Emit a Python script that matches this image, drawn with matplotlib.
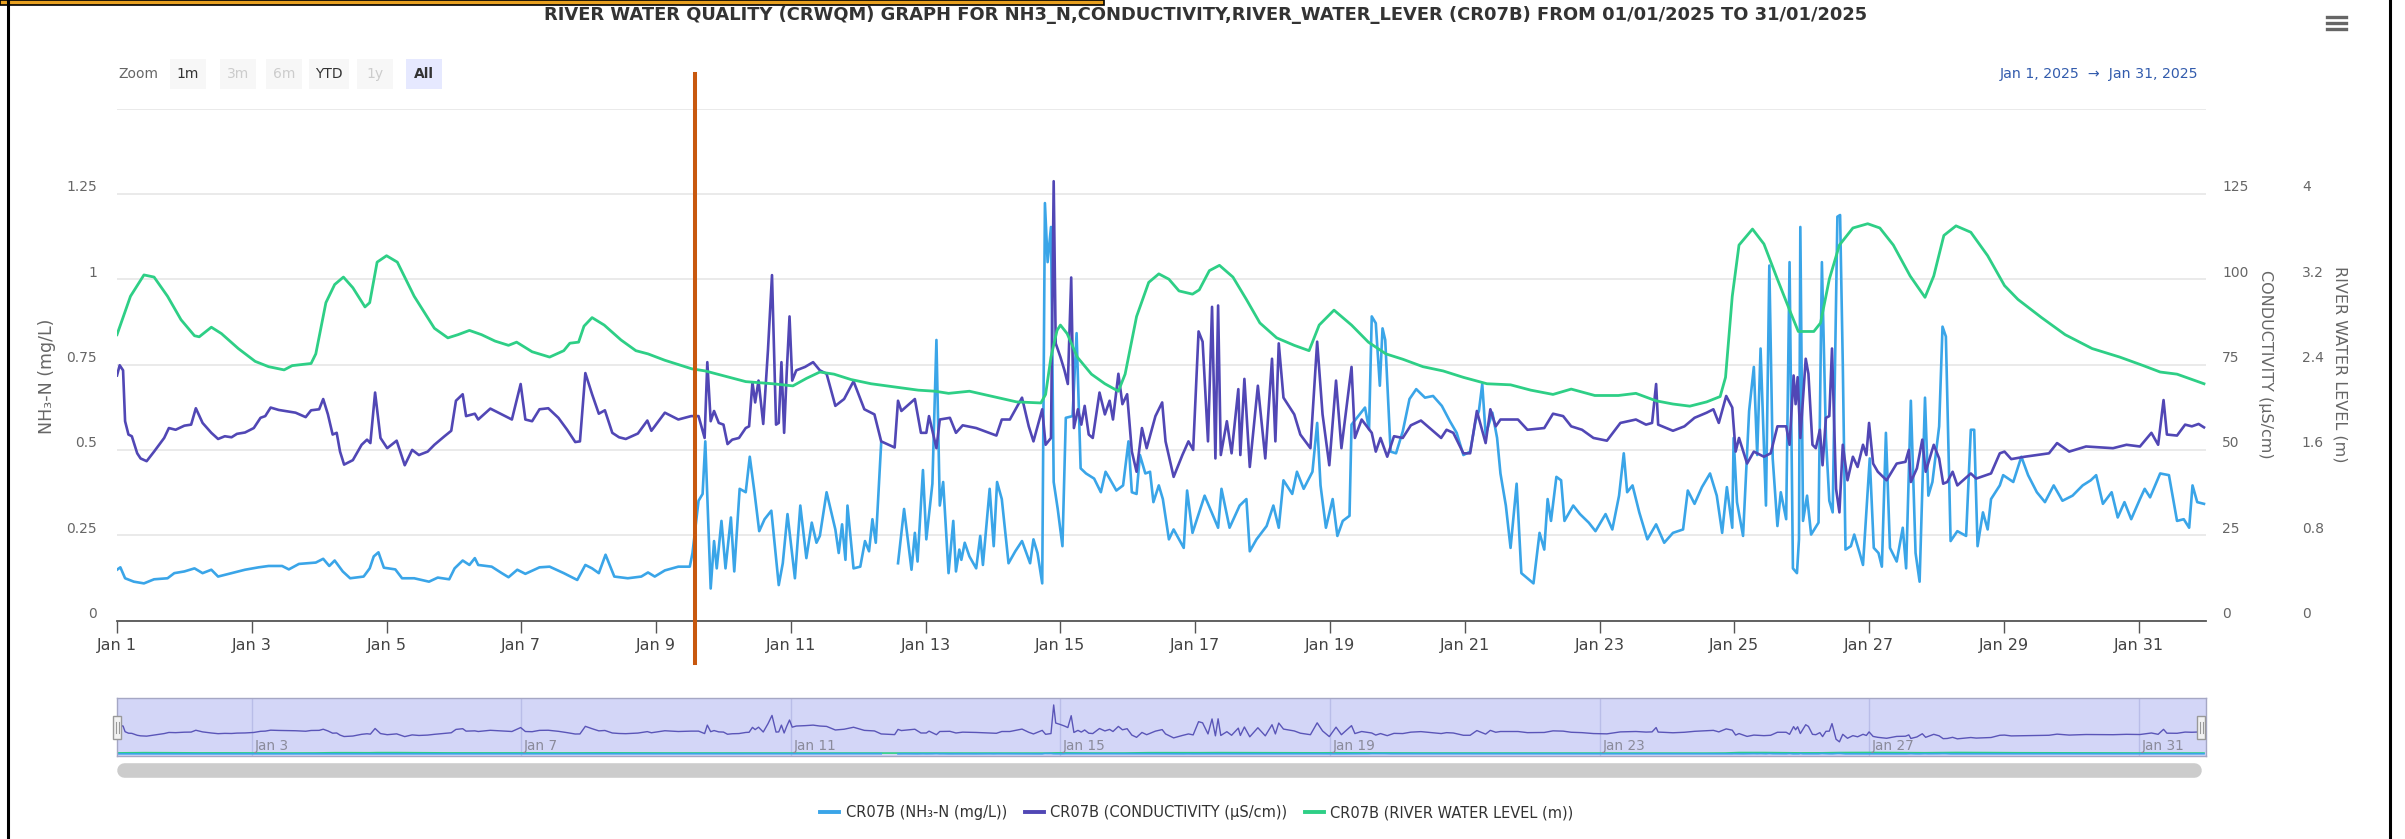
import matplotlib
matplotlib.use('Agg')
import matplotlib.pyplot as plt
import matplotlib.transforms as mtransforms
from matplotlib.patches import Rectangle
from matplotlib.lines import Line2D
import numpy as np

plt.rcParams['font.family'] = ['DejaVu Sans']

# ---- data (x = days since 1 Jan 2025 00:00) ----
title = ("RIVER WATER QUALITY (CRWQM) GRAPH FOR NH3_N,CONDUCTIVITY,RIVER_WATER_LEVER "
         "(CR07B) FROM 01/01/2025 TO 31/01/2025")
series_names = ['CR07B (NH\u2083-N (mg/L))', 'CR07B (CONDUCTIVITY (\u00b5S/cm))',
                'CR07B (RIVER WATER LEVEL (m))']

nh3_pts = [
    (0, 0.149), (0.05, 0.156), (0.12, 0.124), (0.25, 0.114), (0.4, 0.109), (0.55, 0.121),
    (0.75, 0.124), (0.85, 0.139), (1.0, 0.144), (1.15, 0.153), (1.27, 0.139), (1.4, 0.149),
    (1.5, 0.129), (1.7, 0.139), (1.9, 0.149), (2.1, 0.156), (2.25, 0.160), (2.45, 0.160),
    (2.55, 0.150), (2.7, 0.166), (2.95, 0.170), (3.06, 0.181), (3.15, 0.160), (3.23, 0.176),
    (3.35, 0.144), (3.46, 0.124), (3.66, 0.129), (3.75, 0.153), (3.81, 0.188), (3.88, 0.200),
    (3.96, 0.155), (4.13, 0.150), (4.23, 0.124), (4.41, 0.124), (4.63, 0.114), (4.76, 0.126),
    (4.93, 0.121), (5.01, 0.153), (5.13, 0.176), (5.23, 0.163), (5.31, 0.183), (5.36, 0.163),
    (5.56, 0.158), (5.71, 0.139), (5.81, 0.127), (5.94, 0.149), (6.06, 0.137), (6.27, 0.156),
    (6.42, 0.158), (6.63, 0.139), (6.83, 0.119), (6.95, 0.163), (7.05, 0.153), (7.15, 0.139),
    (7.25, 0.193), (7.38, 0.129), (7.58, 0.124), (7.78, 0.129), (7.88, 0.141), (7.98, 0.129),
    (8.13, 0.147), (8.33, 0.158), (8.5, 0.158), (8.54, 0.198), (8.63, 0.351), (8.69, 0.371),
    (8.73, 0.525), (8.81, 0.094), (8.86, 0.233), (8.9, 0.153), (8.97, 0.292), (9.03, 0.153),
    (9.11, 0.302), (9.16, 0.144), (9.24, 0.386), (9.33, 0.376), (9.39, 0.480), (9.46, 0.376),
    (9.53, 0.262), (9.61, 0.297), (9.71, 0.322), (9.82, 0.104), (9.88, 0.168), (9.95, 0.312),
    (10.06, 0.124), (10.14, 0.337), (10.23, 0.183), (10.31, 0.287), (10.38, 0.228),
    (10.43, 0.248), (10.53, 0.376), (10.66, 0.267), (10.71, 0.198), (10.76, 0.282),
    (10.81, 0.178), (10.84, 0.337), (10.93, 0.153), (11.03, 0.158), (11.1, 0.233),
    (11.16, 0.203), (11.21, 0.297), (11.26, 0.228), (11.34, 0.520), (11.45, np.nan),
    (11.59, 0.168), (11.68, 0.327), (11.79, 0.149), (11.84, 0.257), (11.88, 0.173),
    (11.96, 0.441), (12.01, 0.238), (12.1, 0.401), (12.16, 0.822), (12.21, 0.337),
    (12.26, 0.406), (12.34, 0.139), (12.41, 0.292), (12.45, 0.144), (12.5, 0.208),
    (12.53, 0.178), (12.58, 0.228), (12.65, 0.188), (12.75, 0.153), (12.81, 0.248),
    (12.85, 0.163), (12.95, 0.386), (13.01, 0.218), (13.06, 0.406), (13.13, 0.356),
    (13.23, 0.168), (13.33, 0.203), (13.43, 0.233), (13.55, 0.168), (13.6, 0.238),
    (13.66, 0.198), (13.73, 0.109), (13.77, 1.223), (13.81, 1.050), (13.86, 1.153),
    (13.9, 0.406), (13.96, 0.327), (14.03, 0.218), (14.08, 0.594), (14.18, 0.599),
    (14.24, 0.842), (14.3, 0.446), (14.38, 0.431), (14.5, 0.416), (14.6, 0.376), (14.67, 0.436),
    (14.73, 0.416), (14.83, 0.381), (14.93, 0.396), (15.01, 0.525), (15.06, 0.376),
    (15.13, 0.371), (15.18, 0.485), (15.26, 0.431), (15.33, 0.436), (15.38, 0.347),
    (15.46, 0.396), (15.52, 0.356), (15.61, 0.238), (15.68, 0.267), (15.83, 0.213),
    (15.88, 0.381), (15.96, 0.257), (16.14, 0.366), (16.34, 0.272), (16.39, 0.386),
    (16.51, 0.272), (16.66, 0.337), (16.76, 0.356), (16.81, 0.203), (16.91, 0.238),
    (17.06, 0.277), (17.16, 0.337), (17.24, 0.272), (17.31, 0.411), (17.44, 0.371),
    (17.51, 0.436), (17.61, 0.386), (17.74, 0.436), (17.81, 0.579), (17.86, 0.396),
    (17.94, 0.272), (18.04, 0.356), (18.11, 0.248), (18.19, 0.292), (18.29, 0.307),
    (18.32, 0.574), (18.52, 0.624), (18.58, 0.560), (18.62, 0.891), (18.68, 0.871),
    (18.74, 0.688), (18.78, 0.856), (18.82, 0.822), (18.9, 0.495), (18.98, 0.490),
    (19.08, 0.554), (19.18, 0.649), (19.28, 0.678), (19.41, 0.653), (19.53, 0.658),
    (19.66, 0.629), (19.78, 0.584), (19.88, 0.550), (19.98, 0.485), (20.08, 0.495),
    (20.16, 0.584), (20.21, 0.614), (20.26, 0.693), (20.31, 0.545), (20.41, 0.609),
    (20.48, 0.535), (20.53, 0.431), (20.61, 0.337), (20.68, 0.213), (20.77, 0.401),
    (20.84, 0.139), (20.93, 0.124), (21.02, 0.109), (21.11, 0.257), (21.18, 0.208),
    (21.23, 0.356), (21.28, 0.292), (21.36, 0.421), (21.43, 0.411), (21.48, 0.292),
    (21.61, 0.337), (21.71, 0.312), (21.84, 0.287), (21.94, 0.262), (22.09, 0.312),
    (22.19, 0.267), (22.29, 0.366), (22.36, 0.490), (22.41, 0.376), (22.49, 0.396),
    (22.59, 0.317), (22.71, 0.238), (22.84, 0.282), (22.96, 0.228), (23.09, 0.257),
    (23.24, 0.267), (23.31, 0.381), (23.41, 0.342), (23.52, 0.391), (23.64, 0.431),
    (23.74, 0.366), (23.82, 0.257), (23.89, 0.391), (23.97, 0.272), (23.99, 0.535),
    (24.04, 0.347), (24.13, 0.248), (24.22, 0.614), (24.29, 0.743), (24.34, 0.485),
    (24.39, 0.797), (24.47, 0.337), (24.52, 1.040), (24.57, 0.475), (24.64, 0.277),
    (24.69, 0.376), (24.77, 0.297), (24.82, 1.050), (24.87, 0.153), (24.93, 0.139),
    (24.96, 0.238), (24.98, 1.153), (25.02, 0.292), (25.08, 0.366), (25.14, 0.252),
    (25.25, 0.287), (25.3, 1.050), (25.36, 0.535), (25.41, 0.351), (25.46, 0.317),
    (25.53, 1.183), (25.57, 1.188), (25.61, 0.752), (25.65, 0.208), (25.73, 0.218),
    (25.78, 0.252), (25.86, 0.198), (25.91, 0.163), (26.01, 0.475), (26.07, 0.213),
    (26.14, 0.198), (26.19, 0.158), (26.25, 0.550), (26.31, 0.213), (26.41, 0.173),
    (26.5, 0.272), (26.55, 0.153), (26.62, 0.644), (26.69, 0.198), (26.75, 0.114),
    (26.83, 0.653), (26.88, 0.366), (26.94, 0.406), (27.04, 0.569), (27.09, 0.861),
    (27.14, 0.832), (27.21, 0.233), (27.31, 0.262), (27.44, 0.248), (27.51, 0.559),
    (27.56, 0.559), (27.61, 0.218), (27.69, 0.317), (27.76, 0.267), (27.81, 0.356),
    (27.94, 0.396), (27.99, 0.426), (28.14, 0.406), (28.26, 0.480), (28.36, 0.426),
    (28.49, 0.376), (28.61, 0.347), (28.74, 0.396), (28.87, 0.351), (29.02, 0.366),
    (29.17, 0.396), (29.29, 0.411), (29.37, 0.426), (29.47, 0.342), (29.6, 0.376),
    (29.69, 0.302), (29.79, 0.347), (29.89, 0.297), (30.02, 0.356), (30.09, 0.386),
    (30.17, 0.361), (30.32, 0.431), (30.45, 0.426), (30.57, 0.292), (30.67, 0.297),
    (30.75, 0.272), (30.8, 0.396), (30.87, 0.347), (30.97, 0.342),
]

cond_pts = [
    (0, 71.8), (0.04, 74.8), (0.09, 73.3), (0.12, 58.4), (0.17, 54.5), (0.22, 54.0),
    (0.3, 49.0), (0.35, 47.5), (0.44, 46.7), (0.55, 49.5), (0.7, 53.5), (0.77, 56.4),
    (0.87, 55.9), (1.0, 57.1), (1.1, 57.4), (1.17, 62.2), (1.27, 57.9), (1.4, 55.0),
    (1.5, 53.2), (1.6, 54.0), (1.7, 53.7), (1.78, 54.7), (1.9, 55.1), (2.03, 56.4),
    (2.13, 59.4), (2.2, 59.9), (2.28, 62.4), (2.4, 61.7), (2.65, 60.9), (2.8, 59.6),
    (2.88, 61.6), (3.0, 61.9), (3.06, 64.9), (3.13, 60.4), (3.2, 54.5), (3.26, 55.0),
    (3.31, 49.5), (3.37, 45.7), (3.5, 47.0), (3.63, 51.5), (3.71, 53.0), (3.76, 52.0),
    (3.83, 66.8), (3.91, 53.5), (4.01, 50.5), (4.15, 52.7), (4.27, 45.5), (4.38, 50.0),
    (4.48, 48.5), (4.61, 49.5), (4.71, 51.5), (4.86, 54.0), (4.96, 55.6), (5.03, 64.4),
    (5.13, 66.3), (5.18, 59.9), (5.31, 60.6), (5.36, 58.9), (5.54, 62.1), (5.71, 60.4),
    (5.86, 58.9), (5.99, 69.3), (6.06, 58.9), (6.16, 58.4), (6.27, 61.9), (6.4, 62.2),
    (6.55, 59.4), (6.68, 55.9), (6.8, 52.3), (6.87, 52.5), (6.95, 72.5), (7.05, 66.3),
    (7.15, 60.6), (7.24, 61.6), (7.35, 55.0), (7.45, 53.7), (7.55, 53.2), (7.73, 54.8),
    (7.87, 58.6), (7.93, 55.6), (8.13, 60.9), (8.33, 58.9), (8.52, 59.9), (8.63, 59.9),
    (8.72, 53.5), (8.76, 75.7), (8.81, 58.4), (8.86, 61.4), (8.93, 57.9), (9.0, 57.4),
    (9.06, 51.7), (9.13, 53.0), (9.23, 53.5), (9.33, 56.4), (9.38, 56.9), (9.43, 69.8),
    (9.47, 63.9), (9.52, 70.3), (9.59, 57.6), (9.66, 79.2), (9.72, 101.2), (9.78, 57.4),
    (9.82, 57.9), (9.86, 75.7), (9.9, 55.0), (9.94, 73.3), (9.98, 89.1), (10.02, 70.3),
    (10.08, 73.3), (10.21, 74.3), (10.33, 75.7), (10.43, 73.3), (10.53, 72.3),
    (10.66, 62.9), (10.79, 64.9), (10.93, 70.1), (11.09, 61.9), (11.24, 60.4),
    (11.34, 52.5), (11.54, 50.7), (11.59, 64.4), (11.64, 61.4), (11.84, 64.9),
    (11.93, 55.0), (12.01, 55.0), (12.05, 59.9), (12.16, 50.5), (12.21, 58.9),
    (12.36, 59.4), (12.45, 55.0), (12.55, 57.2), (12.75, 56.4), (13.05, 54.2),
    (13.13, 58.9), (13.25, 58.9), (13.43, 65.3), (13.53, 56.9), (13.6, 52.5),
    (13.73, 61.9), (13.78, 51.5), (13.86, 53.5), (13.9, 128.7), (13.93, 81.2),
    (14.0, 77.2), (14.06, 73.3), (14.11, 69.3), (14.16, 100.5), (14.2, 56.4),
    (14.26, 61.9), (14.31, 57.4), (14.36, 62.9), (14.42, 54.5), (14.48, 53.5),
    (14.58, 66.8), (14.66, 60.4), (14.73, 64.4), (14.78, 58.9), (14.86, 72.3),
    (14.92, 63.4), (14.99, 66.3), (15.06, 49.5), (15.13, 43.6), (15.21, 56.4),
    (15.28, 50.5), (15.41, 59.9), (15.51, 63.9), (15.56, 52.5), (15.68, 42.1),
    (15.81, 48.5), (15.9, 52.5), (15.97, 50.0), (16.05, 84.7), (16.11, 81.7),
    (16.19, 52.5), (16.25, 91.9), (16.3, 47.5), (16.34, 92.3), (16.38, 48.5),
    (16.47, 58.4), (16.54, 49.0), (16.64, 67.8), (16.67, 48.5), (16.73, 70.8),
    (16.81, 45.0), (16.93, 68.8), (17.04, 47.5), (17.14, 76.7), (17.19, 52.5),
    (17.24, 81.2), (17.31, 65.3), (17.47, 60.4), (17.56, 54.5), (17.71, 50.5),
    (17.81, 81.7), (17.89, 60.4), (17.99, 45.5), (18.09, 70.3), (18.17, 50.5),
    (18.32, 74.3), (18.37, 53.5), (18.47, 58.9), (18.62, 55.0), (18.68, 49.5),
    (18.75, 53.5), (18.85, 48.0), (18.95, 54.0), (19.08, 53.5), (19.2, 57.2),
    (19.35, 58.6), (19.51, 55.9), (19.65, 53.5), (19.73, 55.9), (19.83, 55.0),
    (19.98, 49.0), (20.08, 49.0), (20.18, 61.4), (20.31, 52.0), (20.38, 61.9),
    (20.46, 56.9), (20.53, 58.9), (20.79, 58.9), (20.93, 55.9), (21.18, 56.4),
    (21.31, 60.6), (21.46, 59.9), (21.58, 56.9), (21.74, 55.9), (21.91, 53.5),
    (22.11, 52.7), (22.31, 57.9), (22.54, 58.9), (22.69, 57.4), (22.78, 57.9),
    (22.84, 69.3), (22.87, 57.4), (23.09, 55.6), (23.26, 56.9), (23.41, 59.4),
    (23.59, 60.9), (23.69, 61.9), (23.77, 57.9), (23.88, 65.8), (23.97, 62.4),
    (24.02, 49.5), (24.07, 53.5), (24.19, 46.0), (24.29, 49.5), (24.44, 48.0),
    (24.54, 49.0), (24.64, 56.9), (24.77, 56.9), (24.82, 51.5), (24.88, 71.8),
    (24.91, 63.4), (24.94, 71.3), (24.98, 53.5), (25.06, 76.7), (25.1, 72.3),
    (25.16, 51.5), (25.21, 50.5), (25.27, 55.9), (25.31, 45.5), (25.36, 59.4),
    (25.41, 59.9), (25.45, 79.7), (25.51, 38.6), (25.56, 31.7), (25.61, 51.5),
    (25.68, 41.1), (25.76, 48.0), (25.83, 45.0), (25.91, 51.5), (25.96, 48.5),
    (26.0, 57.9), (26.06, 46.0), (26.13, 43.6), (26.26, 41.1), (26.41, 46.0),
    (26.54, 46.5), (26.59, 50.0), (26.62, 40.6), (26.71, 44.6), (26.79, 53.0),
    (26.84, 43.6), (26.96, 51.5), (27.04, 47.5), (27.1, 40.1), (27.16, 40.6),
    (27.24, 43.6), (27.31, 39.6), (27.51, 43.1), (27.59, 41.6), (27.81, 43.1),
    (27.94, 49.0), (28.01, 49.5), (28.11, 47.3), (28.31, 48.0), (28.67, 49.0),
    (28.79, 52.0), (28.97, 49.5), (29.22, 51.0), (29.62, 50.5), (29.82, 51.5),
    (30.02, 51.0), (30.19, 55.0), (30.29, 51.5), (30.37, 64.6), (30.42, 54.5),
    (30.57, 54.2), (30.69, 57.4), (30.79, 56.9), (30.89, 57.6), (30.97, 56.6),
]

level_pts = [
    (0, 2.68), (0.2, 3.04), (0.4, 3.24), (0.55, 3.22), (0.75, 3.04), (0.95, 2.82),
    (1.15, 2.67), (1.22, 2.66), (1.4, 2.75), (1.55, 2.69), (1.8, 2.55), (2.05, 2.43),
    (2.25, 2.38), (2.48, 2.35), (2.6, 2.39), (2.88, 2.41), (2.95, 2.50), (3.1, 2.98),
    (3.23, 3.15), (3.36, 3.22), (3.5, 3.12), (3.68, 2.94), (3.75, 2.98), (3.86, 3.36),
    (4.0, 3.42), (4.16, 3.36), (4.41, 3.04), (4.71, 2.74), (4.91, 2.65), (5.06, 2.68),
    (5.23, 2.72), (5.41, 2.68), (5.61, 2.62), (5.81, 2.58), (5.93, 2.61), (6.16, 2.52),
    (6.42, 2.47), (6.63, 2.53), (6.72, 2.60), (6.85, 2.61), (6.93, 2.76), (7.05, 2.84),
    (7.23, 2.77), (7.48, 2.63), (7.7, 2.53), (7.88, 2.50), (8.13, 2.44), (8.53, 2.36),
    (8.73, 2.34), (9.03, 2.29), (9.33, 2.24), (9.73, 2.22), (10.03, 2.20), (10.23, 2.27),
    (10.43, 2.33), (10.64, 2.31), (10.89, 2.26), (11.19, 2.22), (11.54, 2.19), (11.89, 2.16),
    (12.14, 2.15), (12.34, 2.13), (12.65, 2.15), (13.0, 2.10), (13.35, 2.05), (13.71, 2.04),
    (13.78, 2.12), (13.86, 2.47), (13.95, 2.72), (14.0, 2.77), (14.1, 2.69), (14.25, 2.47),
    (14.46, 2.31), (14.66, 2.22), (14.86, 2.15), (14.96, 2.31), (15.13, 2.85), (15.31, 3.17),
    (15.46, 3.25), (15.61, 3.20), (15.76, 3.09), (15.96, 3.06), (16.06, 3.10), (16.21, 3.28),
    (16.36, 3.33), (16.56, 3.22), (16.76, 3.01), (16.96, 2.79), (17.21, 2.65), (17.47, 2.58),
    (17.69, 2.53), (17.84, 2.77), (18.06, 2.91), (18.32, 2.77), (18.57, 2.61), (18.83, 2.50),
    (19.08, 2.45), (19.38, 2.38), (19.68, 2.34), (19.98, 2.28), (20.33, 2.22), (20.68, 2.21),
    (20.98, 2.16), (21.31, 2.12), (21.58, 2.17), (21.93, 2.11), (22.28, 2.11), (22.54, 2.13),
    (22.84, 2.06), (23.09, 2.03), (23.34, 2.01), (23.59, 2.05), (23.79, 2.10), (23.87, 2.28),
    (23.97, 3.04), (24.07, 3.52), (24.27, 3.67), (24.44, 3.53), (24.64, 3.20), (24.84, 2.88),
    (24.95, 2.71), (25.18, 2.71), (25.28, 2.79), (25.41, 3.20), (25.56, 3.52), (25.76, 3.68),
    (25.98, 3.72), (26.16, 3.68), (26.36, 3.52), (26.61, 3.23), (26.83, 3.03), (26.96, 3.23),
    (27.11, 3.61), (27.29, 3.70), (27.51, 3.64), (27.76, 3.42), (28.01, 3.14), (28.21, 3.01),
    (28.56, 2.84), (28.91, 2.68), (29.31, 2.55), (29.72, 2.47), (30.07, 2.39), (30.32, 2.33),
    (30.57, 2.31), (30.97, 2.22),
]

nh3_day, nh3_val = np.array(nh3_pts).T
cond_day, cond_val = np.array(cond_pts).T
level_day, level_m = np.array(level_pts).T

tick_days = list(range(0, 31, 2))
tick_labels = ['Jan %d' % (d + 1) for d in tick_days]
nav_days = [2, 6, 10, 14, 18, 22, 26, 30]
nav_labels = ['Jan %d' % (d + 1) for d in nav_days]

nh3_ticks = [0, 0.25, 0.5, 0.75, 1.0, 1.25, 1.5]
nh3_ticklabels = ['0', '0.25', '0.5', '0.75', '1', '1.25', '']
cond_ticks = [0, 25, 50, 75, 100, 125]
level_ticks = [0, 0.8, 1.6, 2.4, 3.2, 4.0]
level_ticklabels = ['0', '0.8', '1.6', '2.4', '3.2', '4']

marker_day = 8.57
buttons = ['1m', '3m', '6m', 'YTD', '1y', 'All']

c_nh3, c_cond, c_level = '#3aa5e8', '#5147b5', '#2ecf86'

# ---- layout helpers (pixel -> figure fraction) ----
W, H = 2405, 839
def fx(x):
    return x / W
def fy(y):
    return 1 - y / H

fig = plt.figure(figsize=(W / 100, H / 100), dpi=100)

ax = fig.add_axes([fx(117), fy(620.6), (2206 - 117) / W, (620.6 - 108.5) / H])
ax2 = ax.twinx()
ax3 = ax.twinx()

ax.plot(nh3_day, nh3_val, color=c_nh3, lw=1.9, solid_joinstyle='round')
ax2.plot(cond_day, cond_val, color=c_cond, lw=1.9, solid_joinstyle='round')
ax3.plot(level_day, level_m, color=c_level, lw=2.0, solid_joinstyle='round')

ax.set_xlim(0, 31)
ax.set_ylim(0, 1.5)
ax2.set_ylim(0, 150)
ax3.set_ylim(0, 4.8)

ax.set_xticks(tick_days)
ax.set_xticklabels(tick_labels)
ax.tick_params(axis='x', length=8.6, width=1, color='#555555', pad=4,
               labelsize=11.5, labelcolor='#444444')
ax.set_yticks(nh3_ticks)
ax.set_yticklabels(nh3_ticklabels)
ax.tick_params(axis='y', length=0, pad=14.4, labelsize=10, labelcolor='#666666')
ax.grid(axis='y', color='#e6e6e6', lw=1.2)
ax.set_axisbelow(True)

ax2.set_yticks(cond_ticks)
ax2.set_yticklabels([str(t) for t in cond_ticks])
ax2.tick_params(axis='y', length=0, pad=11.5, labelsize=10, labelcolor='#666666')
ax3.set_yticks(level_ticks)
ax3.set_yticklabels(level_ticklabels)
ax3.tick_params(axis='y', length=0, pad=69, labelsize=10, labelcolor='#666666')

for a in (ax, ax2, ax3):
    for s in a.spines.values():
        s.set_visible(False)
ax.spines['bottom'].set_visible(True)
ax.spines['bottom'].set_color('#555555')
ax.spines['bottom'].set_linewidth(1.3)

# lift y tick labels a little above their grid lines, like the original
lift = mtransforms.ScaledTranslation(0, 8 / 100, fig.dpi_scale_trans)
for a in (ax, ax2, ax3):
    for lbl in a.get_yticklabels():
        lbl.set_transform(lbl.get_transform() + lift)

ax.set_ylabel('NH\u2083-N (mg/L)', fontsize=12.5, color='#666666', va='center')
ax.yaxis.set_label_coords((47 - 117) / 2089, 0.478)
ax2.set_ylabel('CONDUCTIVITY (\u00b5S/cm)', fontsize=11.5, color='#666666',
               rotation=270, va='center')
ax2.yaxis.set_label_coords((2265 - 117) / 2089, 0.5)
ax3.set_ylabel('RIVER WATER LEVEL (m)', fontsize=11.5, color='#666666',
               rotation=270, va='center')
ax3.yaxis.set_label_coords((2340 - 117) / 2089, 0.5)

# orange marker line drawn over the chart
ax3.axvline(marker_day, ymin=-0.083, ymax=1.067, clip_on=False,
            color='#c8580e', lw=2.9, zorder=10)

# ---- navigator ----
nav = fig.add_axes([fx(117), fy(756), 2089 / W, 58 / H])
nav.set_facecolor('#d3d6f7')
nav.plot(cond_day, cond_val, color='#5a55b8', lw=1.0)
nav.plot(level_day, level_m, color=c_level, lw=1.2)
nav.plot(nh3_day, nh3_val, color=c_nh3, lw=1.2)
nav.set_xlim(0, 31)
nav.set_ylim(-5.5, 147)
nav.set_xticks(nav_days)
nav.set_xticklabels([])
nav.set_yticks([])
nav.tick_params(length=0)
nav.grid(axis='x', color='#b9bde8', lw=1)
for s in nav.spines.values():
    s.set_color('#a5a7c4')
    s.set_linewidth(1)
navtr = mtransforms.blended_transform_factory(nav.transData, nav.transAxes)
for d, lbl in zip(nav_days, nav_labels):
    nav.text(d + 0.04, 0.17, lbl, transform=navtr, ha='left', va='center',
             fontsize=9.8, color='#8a8a9a')

for hx in (117, 2201):
    fig.add_artist(Rectangle((fx(hx - 4), fy(739)), 8 / W, 23 / H,
                             transform=fig.transFigure, facecolor='#f2f2f2',
                             edgecolor='#999999', lw=1))
    for dx in (-1.5, 1.5):
        fig.add_artist(Line2D([fx(hx + dx)] * 2, [fy(722), fy(733)],
                              color='#999999', lw=0.8))

# scrollbar
fig.add_artist(Line2D([fx(124), fx(2194)], [fy(769.5)] * 2, lw=10.5,
                      color='#cccccc', solid_capstyle='round'))

# ---- title, range selector, menu ----
fig.text(fx(1206), fy(15.5), title, ha='center', va='center', fontsize=12.9,
         fontweight='bold', color='#333333')

fig.text(fx(118), fy(74), 'Zoom', ha='left', va='center', fontsize=10, color='#666666')
btn_x = [188, 238, 284, 329, 375, 424]
for name, bx in zip(buttons, btn_x):
    bw = 40 if name == 'YTD' else 36
    selected = name == 'All'
    disabled = name in ('3m', '6m', '1y')
    fig.add_artist(Rectangle((fx(bx - bw / 2), fy(89)), bw / W, 30 / H,
                             transform=fig.transFigure, lw=0,
                             facecolor='#e6e9ff' if selected else '#f7f7f7'))
    fig.text(fx(bx), fy(74), name, ha='center', va='center', fontsize=10,
             fontweight='bold' if selected else 'normal',
             color='#cccccc' if disabled else '#333333')

fig.text(fx(2198), fy(74), 'Jan 1, 2025  \u2192  Jan 31, 2025', ha='right', va='center',
         fontsize=10.2, color='#335cad')

for yy in (17, 23, 29):
    fig.add_artist(Line2D([fx(2327), fx(2346)], [fy(yy)] * 2, color='#666666', lw=2.4))

# ---- legend ----
handles = [Line2D([0], [0], color=c, lw=2.8) for c in (c_nh3, c_cond, c_level)]
fig.legend(handles, series_names, loc='center', bbox_to_anchor=(fx(1197), fy(813)),
           ncol=3, frameon=False, fontsize=10.5, handlelength=1.3, handletextpad=0.45,
           columnspacing=1.2, labelcolor='#333333')

# ---- screenshot frame ----
fig.add_artist(Line2D([fx(8)] * 2, [0, 1], color='black', lw=2.2))
fig.add_artist(Line2D([fx(2390)] * 2, [0, 1], color='black', lw=2.2))
fig.add_artist(Rectangle((0, fy(5)), 1104 / W, 5 / H, transform=fig.transFigure,
                         facecolor='#e8a020', edgecolor='black', lw=1.2))

fig.savefig('out.png', dpi=100)
